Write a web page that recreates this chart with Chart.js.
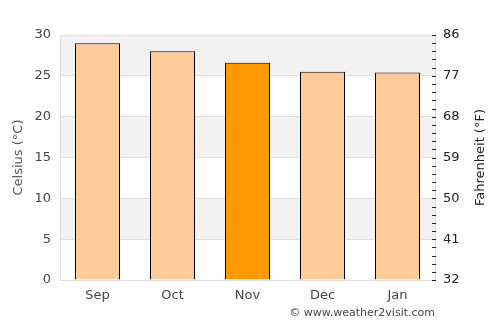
<!DOCTYPE html>
<html lang="en">
<head>
<meta charset="UTF-8">
<title>Temperature</title>
<style>
  body { margin: 0; background: #fff; }
</style>
</head>
<body>
<canvas id="myChart" width="500" height="325"></canvas>
<script src="https://cdn.jsdelivr.net/npm/chart.js"></script>
<script>
const months = ['Sep', 'Oct', 'Nov', 'Dec', 'Jan']
const tempsC = [29, 28, 26.6, 25.5, 25.4]
const barColors = ['#ffcc99', '#ffcc99', '#ff9900', '#ffcc99', '#ffcc99']
const celsiusTicks = [0, 5, 10, 15, 20, 25, 30]
const fahrenheitTicks = [32, 41, 50, 59, 68, 77, 86]

const textColor = '#444'
const fontFamily = 'DejaVu Sans'

// gray bands, minor ticks, axis titles and the credit line
const extras = {
  id: 'extras',
  beforeDraw(chart) {
    const { ctx, chartArea, scales } = chart
    ctx.save()
    ctx.fillStyle = '#f2f2f2'
    for (let i = 1; i < celsiusTicks.length - 1; i += 2) {
      const top = scales.y.getPixelForValue(celsiusTicks[i + 1])
      const bottom = scales.y.getPixelForValue(celsiusTicks[i])
      ctx.fillRect(chartArea.left, top, chartArea.right - chartArea.left, bottom - top)
    }
    ctx.restore()
  },
  afterDraw(chart) {
    const { ctx, chartArea, scales } = chart
    ctx.save()
    // one little tick per degree celsius on the fahrenheit side
    ctx.strokeStyle = '#222'
    ctx.lineWidth = 1
    for (let c = 0; c <= 30; c++) {
      const y = Math.round(scales.y.getPixelForValue(c)) + 0.5
      ctx.beginPath()
      ctx.moveTo(chartArea.right - 3, y)
      ctx.lineTo(chartArea.right + 1, y)
      ctx.stroke()
    }
    const midY = (chartArea.top + chartArea.bottom) / 2
    ctx.font = '13px ' + fontFamily
    ctx.textAlign = 'center'
    ctx.textBaseline = 'middle'
    ctx.fillStyle = '#555'
    ctx.translate(19, midY)
    ctx.rotate(-Math.PI / 2)
    ctx.fillText('Celsius (°C)', 0, 0)
    ctx.setTransform(1, 0, 0, 1, 0, 0)
    ctx.fillStyle = '#222'
    ctx.translate(481, midY)
    ctx.rotate(-Math.PI / 2)
    ctx.fillText('Fahrenheit (°F)', 0, 0)
    ctx.setTransform(1, 0, 0, 1, 0, 0)
    ctx.fillStyle = textColor
    ctx.font = '11px ' + fontFamily
    ctx.textAlign = 'right'
    ctx.fillText('© www.weather2visit.com', chartArea.right, 313)
    ctx.restore()
  }
}

new Chart(document.querySelector('#myChart'), {
  type: 'bar',
  data: {
    labels: months,
    datasets: [{
      data: tempsC,
      backgroundColor: barColors,
      borderColor: '#000',
      borderWidth: 1,
      barPercentage: 0.6,
      categoryPercentage: 1
    }]
  },
  options: {
    responsive: false,
    animation: false,
    layout: { padding: { top: 35 } },
    plugins: { legend: { display: false }, tooltip: { enabled: false } },
    scales: {
      x: {
        grid: { display: false, drawTicks: false },
        border: { color: '#ddd' },
        ticks: { color: textColor, font: { family: fontFamily, size: 13 }, padding: 8 },
        afterFit: s => { s.height = 45 }
      },
      y: {
        min: 0,
        max: 30,
        afterBuildTicks: s => { s.ticks = celsiusTicks.map(v => ({ value: v })) },
        grid: { color: '#e0e0e0', drawTicks: false },
        border: { color: '#ddd' },
        ticks: { color: textColor, font: { family: fontFamily, size: 13 }, padding: 9 },
        afterFit: s => { s.width = 60 }
      },
      y2: {
        position: 'right',
        min: 32,
        max: 86,
        afterBuildTicks: s => { s.ticks = fahrenheitTicks.map(v => ({ value: v })) },
        grid: { drawOnChartArea: false, drawTicks: false },
        border: { color: '#ddd' },
        ticks: { color: '#222', font: { family: fontFamily, size: 13 }, padding: 8 },
        afterFit: s => { s.width = 65 }
      }
    }
  },
  plugins: [extras]
})
</script>
</body>
</html>
